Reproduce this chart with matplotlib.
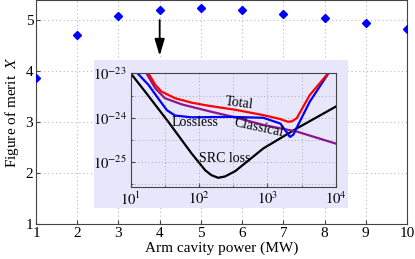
import matplotlib
matplotlib.use("Agg")
import matplotlib.pyplot as plt
import numpy as np
from matplotlib.patches import Rectangle

plt.rcParams['font.family'] = ['Liberation Serif', 'DejaVu Serif']
plt.rcParams['mathtext.fontset'] = 'stix'

# Main data
power_mw = [1, 2, 3, 4, 5, 6, 7, 8, 9, 10]
merit_x = [3.86, 4.71, 5.08, 5.21, 5.25, 5.20, 5.13, 5.05, 4.94, 4.84]
x_ticks = [1, 2, 3, 4, 5, 6, 7, 8, 9, 10]
y_ticks = [1, 2, 3, 4, 5]

# Inset data (log10 frequency, log10 value)
src_logf = [1.0, 1.21, 1.55, 1.89, 2.09, 2.18, 2.28, 2.38, 2.53, 2.94, 3.43, 4.0]
src_logs = [-23.0, -23.41, -24.09, -24.80, -25.18, -25.29, -25.35, -25.32, -25.2, -24.69, -24.24, -23.75]
lossless_logf = [1.10, 1.26, 1.40, 1.53, 1.65, 1.89, 2.45, 2.94, 3.19, 3.28, 3.33, 3.38, 3.45, 3.62, 3.91]
lossless_logs = [-23.0, -23.26, -23.56, -23.83, -23.95, -23.99, -23.98, -24.0, -24.13, -24.32, -24.43, -24.38, -24.16, -23.64, -22.96]
total_logf = [1.26, 1.36, 1.45, 1.65, 1.89, 2.14, 2.53, 2.94, 3.19, 3.30, 3.36, 3.43, 3.62, 3.90]
total_logs = [-23.0, -23.26, -23.41, -23.56, -23.66, -23.73, -23.82, -23.94, -24.03, -24.09, -24.08, -24.01, -23.49, -22.98]
classical_logf = [1.23, 1.36, 1.50, 1.75, 2.14, 2.50, 2.94, 3.43, 4.0]
classical_logs = [-23.0, -23.34, -23.56, -23.70, -23.85, -23.98, -24.16, -24.31, -24.58]

fig = plt.figure(figsize=(4.15, 2.59), dpi=100)
ax = fig.add_axes([36/415, 35/259, 371/415, 224/259])
ax.plot(power_mw, merit_x, linestyle='none', marker='D', color='#0000FF', markersize=4.5, zorder=5)
ax.set_xlim(1, 10)
ax.set_ylim(1, 5.4)
ax.set_xticks(x_ticks)
ax.set_yticks(y_ticks)
ax.grid(True, linestyle=(0, (1, 2.5)), color='#bbbbbb', linewidth=0.8)
ax.tick_params(direction='in', length=3, labelsize=11, color='#444444', pad=2)
for s in ax.spines.values():
    s.set_color('#444444')
    s.set_linewidth(0.8)
ax.set_xlabel('Arm cavity power (MW)', fontsize=11, labelpad=1)
ax.set_ylabel(r'Figure of merit  $X$', fontsize=11, labelpad=3)
ax.annotate('', xy=(4, 4.25), xytext=(4, 5.06),
            arrowprops=dict(arrowstyle='-|>,head_width=0.3,head_length=1.0', color='black', lw=1.3))

# Lavender background
bg = Rectangle((94/415, (259-208)/259), 254/415, 148/259, transform=fig.transFigure,
               facecolor='#E8E6FA', edgecolor='none', zorder=3)
fig.patches.append(bg)

ins = fig.add_axes([130.7/415, (259-186.7)/259, 205/415, 113.4/259], zorder=4)
ins.set_facecolor('#E8E6FA')
ins.set_xscale('log')
ins.set_yscale('log')
ins.set_xlim(10, 1e4)
ins.set_ylim(10**-25.55, 1e-23)
c_black = '#000000'
ins.plot(10**np.array(src_logf), 10**np.array(src_logs), color=c_black, lw=1.6)
ins.plot(10**np.array(classical_logf), 10**np.array(classical_logs), color='#8B168B', lw=1.6)
ins.plot(10**np.array(lossless_logf), 10**np.array(lossless_logs), color='#0000FF', lw=1.6)
ins.plot(10**np.array(total_logf), 10**np.array(total_logs), color='#FF0000', lw=1.6)
ins.set_xticks([10, 100, 1000, 10000])
ins.set_yticks([1e-25, 1e-24, 1e-23])
ins.set_xticks([10**1.5, 10**2.5, 10**3.5], minor=True)
ins.set_yticks([10**-25.5, 10**-24.5, 10**-23.5], minor=True)
ins.set_xticklabels([r'$10^{1}$', r'$10^{2}$', r'$10^{3}$', r'$10^{4}$'])
ins.set_yticklabels([r'$10^{-25}$', r'$10^{-24}$', r'$10^{-23}$'])
ins.set_xticklabels([], minor=True)
ins.set_yticklabels([], minor=True)
ins.grid(True, which='both', linestyle=(0, (1, 2.5)), color='#aaaaaa', linewidth=0.7)
ins.tick_params(which='both', direction='in', labelsize=10.5, color='#444444', pad=3)
ins.tick_params(which='major', length=3)
ins.tick_params(which='minor', length=1.5)
for s in ins.spines.values():
    s.set_color('#444444')
    s.set_linewidth(0.8)

ins.text(10**2.585, 10**-23.67, 'Total', fontsize=10, ha='center', va='center', rotation=-7)
ins.text(10**1.94, 10**-24.10, 'Lossless', fontsize=10, ha='center', va='center')
ins.text(10**2.88, 10**-24.23, 'Classical', fontsize=10, ha='center', va='center', rotation=-12)
ins.text(10**2.37, 10**-24.91, 'SRC loss', fontsize=10, ha='center', va='center')

fig.savefig('out.png', dpi=100)
